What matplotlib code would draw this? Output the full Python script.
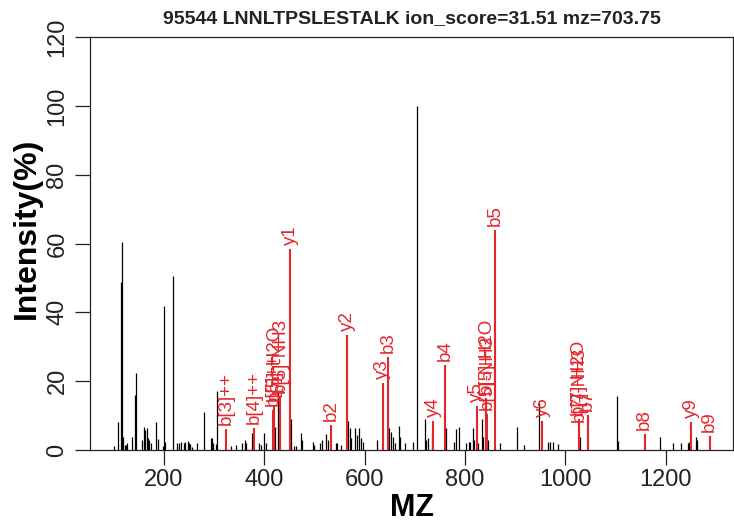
import matplotlib
matplotlib.use("Agg")
import matplotlib.pyplot as plt

plt.rcParams["font.family"] = ["Liberation Sans", "DejaVu Sans"]

title = "95544 LNNLTPSLESTALK ion_score=31.51 mz=703.75"

# unmatched peaks (m/z, relative intensity)
peak_mz = [100.3, 108.9, 113.7, 116.3, 118.9, 122.5, 124.5, 127.0, 135.6, 141.6,
           144.2, 156.7, 160.0, 162.0, 166.7, 168.5, 171.0, 173.5, 184.7, 187.3,
           197.5, 200.0, 202.5, 218.6, 226.5, 229.5, 233.2, 240.0, 242.5, 247.2,
           249.5, 252.0, 256.0, 266.5, 280.4, 293.0, 295.5, 298.0, 303.0, 305.0,
           334.5, 343.5, 356.0, 360.8, 363.5, 374.8, 377.5, 390.0, 393.5, 398.7,
           402.5, 421.9, 427.8, 453.1, 459.5, 463.0, 473.0, 475.5, 496.0, 498.5,
           511.0, 514.0, 523.0, 526.0, 542.0, 545.4, 552.0, 567.4, 570.5, 573.5,
           580.7, 584.0, 588.7, 593.5, 597.0, 625.0, 649.0, 652.0, 655.8, 660.0,
           667.8, 670.5, 680.0, 697.0, 703.7, 720.2, 723.0, 727.0, 733.6, 763.0,
           778.0, 781.4, 787.4, 801.3, 807.0, 810.0, 815.9, 818.0, 826.5, 833.2,
           836.0, 846.0, 869.7, 903.0, 917.6, 947.5, 964.8, 969.4, 976.0, 986.0,
           1029.0, 1102.3, 1105.0, 1188.6, 1213.9, 1230.0, 1243.8, 1246.0, 1260.4, 1263.0]
peak_int = [1.2, 8.2, 48.9, 60.3, 3.7, 1.5, 1.5, 2.0, 3.7, 16.0,
            22.5, 2.9, 6.6, 5.8, 6.3, 3.4, 2.9, 1.9, 8.2, 3.1,
            1.2, 41.9, 2.4, 50.5, 2.1, 1.9, 2.4, 1.9, 2.4, 2.6,
            2.1, 1.7, 1.0, 1.9, 10.9, 3.4, 3.4, 1.9, 1.7, 17.0,
            1.2, 1.5, 1.9, 2.9, 2.1, 5.0, 2.9, 1.9, 1.5, 5.0,
            1.9, 6.6, 17.0, 8.9, 1.2, 1.2, 5.0, 2.9, 2.4, 1.5,
            1.9, 2.9, 4.7, 2.9, 1.9, 1.9, 1.5, 8.5, 6.3, 3.4,
            6.3, 4.4, 6.3, 3.4, 2.4, 2.9, 6.3, 5.3, 3.7, 1.9,
            7.0, 3.7, 1.9, 2.4, 100.0, 8.9, 2.9, 3.4, 5.0, 6.5,
            2.4, 6.0, 6.6, 1.9, 2.4, 2.4, 6.3, 2.9, 1.9, 9.0,
            3.9, 3.0, 2.1, 6.6, 1.5, 13.8, 2.4, 2.2, 2.2, 1.7,
            3.7, 15.7, 2.7, 3.9, 1.9, 1.9, 2.1, 2.4, 3.7, 2.9]

# matched fragment ions
ion_mz = [323.6, 380.0, 417.0, 419.3, 431.0, 451.3, 532.9, 564.6, 635.5, 646.3,
          736.8, 760.0, 823.5, 842.5, 843.5, 860.5, 953.5, 1026.6, 1027.6, 1044.6,
          1157.7, 1250.4, 1287.7]
ion_int = [6.0, 6.3, 11.5, 13.0, 15.4, 58.3, 7.3, 33.4, 19.4, 26.9,
           8.5, 24.7, 12.8, 15.0, 10.5, 64.0, 8.5, 9.0, 7.0, 10.2,
           4.6, 8.1, 4.0]
ion_label = ["b[3]++", "b[4]++", "b[5]++", "b[5]-H2O", "b[5]-NH3", "y1", "b2", "y2", "y3", "b3",
             "y4", "b4", "y5", "b[5]-H2O", "b[5]-NH3", "b5", "y6", "b[7]-H2O", "b[7]-NH3", "b7",
             "b8", "y9", "b9"]

red = "#e4262c"

fig = plt.figure(figsize=(7.34, 5.27), dpi=100)
ax = fig.add_axes([90 / 734, 1 - 450 / 527, 643 / 734, 413 / 527])

ax.vlines(peak_mz, 0, peak_int, color="black", linewidth=0.9)
ax.vlines(ion_mz, 0, ion_int, color=red, linewidth=1.5)
for x, y, lab in zip(ion_mz, ion_int, ion_label):
    ax.annotate(lab, (x, y), xytext=(0, 3), textcoords="offset points",
                rotation=90, rotation_mode="anchor", ha="left", va="center",
                color=red, fontsize=13.5)

ax.set_xlim(52.5, 1334)
ax.set_ylim(0, 120)
ax.set_xticks([200, 400, 600, 800, 1000, 1200])
ax.set_yticks([0, 20, 40, 60, 80, 100, 120])
ax.tick_params(direction="out", length=10.5, width=0.9, labelsize=17, colors="#222222")
ax.tick_params(axis="y", pad=5, labelrotation=90)
for lab in ax.get_yticklabels():
    lab.set_va("center")
for s in ax.spines.values():
    s.set_linewidth(0.9)
    s.set_color("#222222")

ax.set_title(title, fontsize=14, fontweight="bold", pad=10, color="#222222")
ax.set_xlabel("MZ", fontsize=22, fontweight="bold", labelpad=1)
ax.set_ylabel("Intensity(%)", fontsize=23, fontweight="bold")
ax.yaxis.set_label_coords(-0.075, 0.537)

fig.savefig("out.png", dpi=100)
